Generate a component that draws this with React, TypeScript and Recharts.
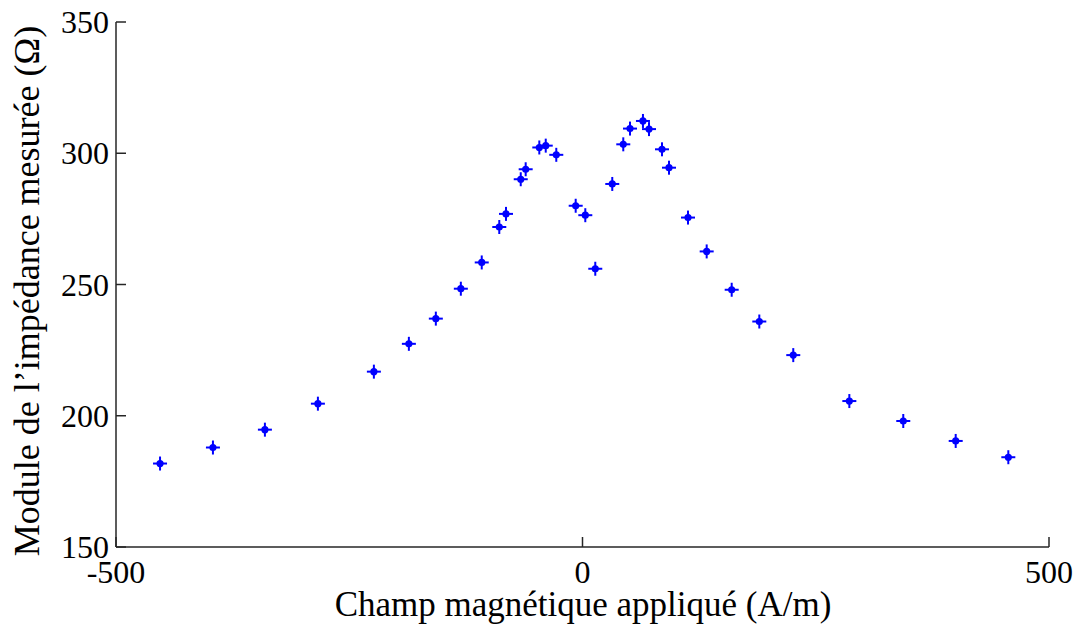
import React from "react";
import { ScatterChart, Scatter, XAxis, YAxis } from "recharts";

const fieldValues = [
  -452.8, -396.1, -340.4, -283.6, -223.6, -186.1, -157.2, -130.4, -108.0, -89.2,
  -82.0, -66.2, -60.9, -46.3, -39.4, -28.1, -7.3, 3.0, 13.7, 31.9,
  43.7, 50.9, 64.8, 71.3, 85.2, 92.7, 113.1, 133.1, 159.9, 189.5,
  225.9, 286.0, 343.8, 400.0, 456.4,
];
const impedanceValues = [
  181.8, 187.9, 194.7, 204.6, 216.8, 227.4, 237.0, 248.4, 258.4, 271.9,
  276.9, 290.1, 293.9, 302.2, 302.9, 299.4, 280.0, 276.4, 256.0, 288.3,
  303.4, 309.4, 312.3, 309.2, 301.5, 294.5, 275.5, 262.6, 248.0, 235.9,
  223.1, 205.6, 198.0, 190.4, 184.2,
];
const xTicks = [-500, 0, 500];
const yTicks = [150, 200, 250, 300, 350];
const xLabel = "Champ magnétique appliqué (A/m)";
const yLabel = "Module de l\u2019impédance mesurée  (\u03A9)";

const data = fieldValues.map((x, i) => ({ x, y: impedanceValues[i] }));

const FONT = "'Liberation Serif', 'Times New Roman', serif";
const AXIS_COLOR = "#262626";

const Marker = (props: any) => {
  const { cx, cy } = props;
  if (cx == null || cy == null) return null;
  return (
    <g>
      <line x1={cx - 7} y1={cy} x2={cx + 7} y2={cy} stroke="#0000ff" strokeWidth={2} />
      <line x1={cx} y1={cy - 7} x2={cx} y2={cy + 7} stroke="#0000ff" strokeWidth={2} />
      <circle cx={cx} cy={cy} r={3.6} fill="#0000ff" />
    </g>
  );
};

const YTick = (props: any) => {
  const { x, y, payload } = props;
  return (
    <g>
      <line x1={x} y1={y} x2={x + 10} y2={y} stroke={AXIS_COLOR} strokeWidth={1.5} />
      <text x={x - 7} y={y} dy={11} textAnchor="end" fontFamily={FONT} fontSize={32} fill="#000">
        {payload.value}
      </text>
    </g>
  );
};

const XTick = (props: any) => {
  const { x, y, payload } = props;
  return (
    <g>
      <line x1={x} y1={y} x2={x} y2={y - 10} stroke={AXIS_COLOR} strokeWidth={1.5} />
      <text x={x} y={y} dy={36} textAnchor="middle" fontFamily={FONT} fontSize={32} fill="#000">
        {payload.value}
      </text>
    </g>
  );
};

export default function App() {
  return (
    <div style={{ position: "absolute", left: 0, top: 0, width: 1084, height: 628, background: "#fff" }}>
      <ScatterChart
        width={1084}
        height={628}
        margin={{ top: 22, right: 35, bottom: 21, left: 16 }}
      >
        <XAxis
          type="number"
          dataKey="x"
          domain={[-500, 500]}
          ticks={xTicks}
          height={60}
          tickSize={0}
          tickMargin={0}
          tickLine={false}
          axisLine={{ stroke: AXIS_COLOR, strokeWidth: 1.5 }}
          tick={<XTick />}
          interval={0}
          allowDataOverflow
        />
        <YAxis
          type="number"
          dataKey="y"
          domain={[150, 350]}
          ticks={yTicks}
          width={100}
          tickSize={0}
          tickMargin={0}
          tickLine={false}
          axisLine={{ stroke: AXIS_COLOR, strokeWidth: 1.5 }}
          tick={<YTick />}
          interval={0}
          allowDataOverflow
        />
        <Scatter data={data} isAnimationActive={false} shape={<Marker />} />
        <text
          x={583}
          y={616}
          textAnchor="middle"
          fontFamily={FONT}
          fontSize={35}
          fill="#000"
        >
          {xLabel}
        </text>
        <text
          x={39}
          y={291}
          textAnchor="middle"
          fontFamily={FONT}
          fontSize={36}
          fill="#000"
          transform="rotate(-90 39 291)"
        >
          {yLabel}
        </text>
      </ScatterChart>
    </div>
  );
}
